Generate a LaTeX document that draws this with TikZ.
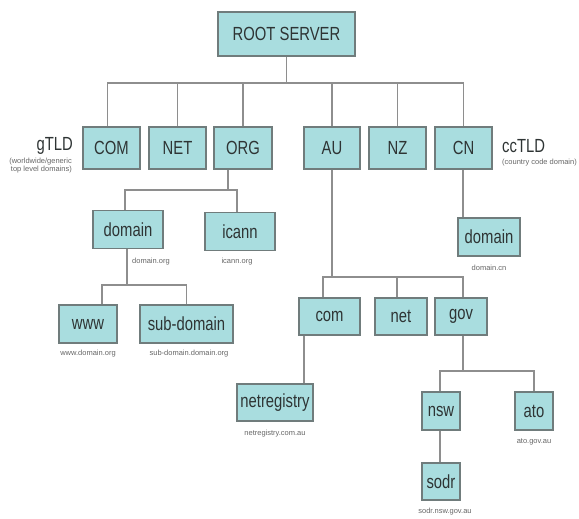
\documentclass[tikz,border=0pt]{standalone}
\usepackage{fontspec}
\setmainfont{Liberation Sans}
\usepackage{graphicx}
\definecolor{boxfill}{HTML}{A9DDDF}
\definecolor{boxline}{HTML}{707C7C}
\definecolor{wirecol}{HTML}{8E8E8E}
\definecolor{ink}{HTML}{2E3434}
\definecolor{notecol}{HTML}{666666}
% narrow the box captions a little, as in a condensed sans face
\newcommand{\cond}[1]{\scalebox{0.78}[1]{#1}}
\tikzset{
  dnsbox/.style={draw=boxline, fill=boxfill, line width=1.1pt, inner sep=0pt,
    text=ink, font=\fontsize{19}{19}\selectfont},
  tld/.style={dnsbox, minimum width=57pt, minimum height=42pt},
  leaf/.style={dnsbox, minimum height=38pt},
  note/.style={inner sep=0pt, text=notecol, font=\fontsize{7.5}{8}\selectfont},
  heading/.style={inner sep=0pt, text=ink, font=\fontsize{19}{19}\selectfont},
  wire/.style={draw=wirecol, line width=1.2pt}
}
\begin{document}
\begin{tikzpicture}[x=1pt, y=-1pt]
\useasboundingbox (0,0) rectangle (579,519);

% root and top level domains
\node[dnsbox, minimum width=137pt, minimum height=44pt] (root) at (286.5,34) {\cond{ROOT SERVER}};
\node[tld] (com) at (111.5,148) {\cond{COM}};
\node[tld] (net) at (177.5,148) {\cond{NET}};
\node[tld, minimum width=58pt] (org) at (243,148) {\cond{ORG}};
\node[tld, minimum width=56pt] (au)  at (332,148) {\cond{AU}};
\node[tld] (nz)  at (397.5,148) {\cond{NZ}};
\node[tld] (cn)  at (463.5,148) {\cond{CN}};

\node[heading, anchor=east] (gtld) at (73,146) {\cond{gTLD}};
\node[note, anchor=north east, align=right] (gtldnote) at (72,158)
  {(worldwide/generic\\top level domains)};
\node[heading, anchor=west] (cctld) at (502,146) {\cond{ccTLD}};
\node[note, anchor=north west] (cctldnote) at (502,159) {(country code domain)};

% second and lower levels
\node[leaf, minimum width=70pt] (dom)   at (128,229.5) {\cond{domain}};
\node[leaf, minimum width=70pt] (icann) at (240,231.5) {\cond{icann}};
\node[leaf, minimum width=58pt] (www)   at (88,324) {\cond{www}};
\node[leaf, minimum width=93pt] (sub)   at (186.5,324) {\cond{sub-domain}};
\node[leaf, minimum width=62pt] (dcn)   at (489,237) {\cond{domain}};
\node[leaf, minimum width=61pt, minimum height=37pt] (aucom) at (329.5,316.5) {\cond{com}};
\node[leaf, minimum width=52pt, minimum height=37pt] (aunet) at (401,316.5) {\cond{net}};
\node[leaf, minimum width=52pt, minimum height=37pt] (augov) at (461,316.5) {\cond{gov}};
\node[leaf, minimum width=76pt, minimum height=37pt] (netreg) at (275,402.5) {\cond{netregistry}};
\node[leaf, minimum width=38pt] (nsw)  at (441,411) {\cond{nsw}};
\node[leaf, minimum width=38pt] (ato)  at (534,411) {\cond{ato}};
\node[leaf, minimum width=38pt, minimum height=37pt] (sodr) at (441,481.5) {\cond{sodr}};

% small address captions
\node[note] (domnote)   at (151,262) {domain.org};
\node[note] (icannnote) at (237,262) {icann.org};
\node[note] (wwwnote)   at (88,354) {www.domain.org};
\node[note] (subnote)   at (189,354) {sub-domain.domain.org};
\node[note] (dcnnote)   at (489,268) {domain.cn};
\node[note] (netrnote)  at (275,434) {netregistry.com.au};
\node[note] (atonote)   at (534,442) {ato.gov.au};
\node[note] (sodrnote)  at (445,512) {sodr.nsw.gov.au};

% tree connectors
\coordinate (topbar) at (0,83);
\draw[wire] (root.south) -- (root.south |- topbar);
\draw[wire] ([xshift=-4pt]com.north) |- (cn.north |- topbar) -- (cn.north);
\foreach \n in {net,org,au,nz}
  \draw[wire] (\n.north) -- (\n.north |- topbar);

\coordinate (orgbar) at (0,190);
\draw[wire] ([xshift=-15pt]org.south) -- ([xshift=-15pt]org.south |- orgbar);
\draw[wire] ([xshift=-3pt]dom.north) |- ([xshift=-3pt]icann.north |- orgbar) -- ([xshift=-3pt]icann.north);

\coordinate (dombar) at (0,285);
\draw[wire] ([xshift=-1pt]dom.south) -- ([xshift=-1pt]dom.south |- dombar);
\draw[wire] ([xshift=14pt]www.north) |- (sub.north |- dombar) -- (sub.north);

\draw[wire] ([xshift=-0.5pt]cn.south) -- ([xshift=-0.5pt]cn.south |- dcn.north);

\coordinate (aubar) at (0,277);
\draw[wire] (au.south) -- (au.south |- aubar);
\draw[wire] ([xshift=-6.5pt]aucom.north) |- ([xshift=2pt]augov.north |- aubar) -- ([xshift=2pt]augov.north);
\draw[wire] ([xshift=-4pt]aunet.north) -- ([xshift=-4pt]aunet.north |- aubar);

\draw[wire] ([xshift=-25.5pt]aucom.south) -- ([xshift=-25.5pt]aucom.south |- netreg.north);

\coordinate (govbar) at (0,371);
\draw[wire] ([xshift=2pt]augov.south) -- ([xshift=2pt]augov.south |- govbar);
\draw[wire] ([xshift=-1pt]nsw.north) |- (ato.north |- govbar) -- (ato.north);
\draw[wire] ([xshift=-1pt]nsw.south) -- ([xshift=-1pt]sodr.north);
\end{tikzpicture}
\end{document}
